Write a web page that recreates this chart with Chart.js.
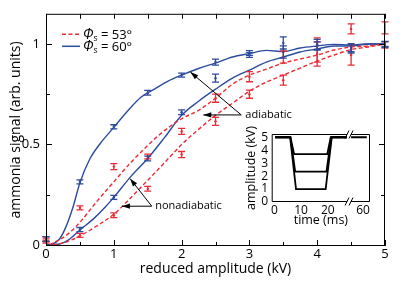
<!DOCTYPE html>
<html>
<head>
<meta charset="utf-8">
<script src="https://cdn.jsdelivr.net/npm/chart.js@4.4.0/dist/chart.umd.min.js"></script>
<style>
  html, body { margin: 0; padding: 0; background: #fff; }
  #wrap { position: relative; width: 415px; height: 282px; }
  #wrap canvas { position: absolute; left: 0; top: 0; }
</style>
</head>
<body>
<div id="wrap">
  <canvas id="mainChart" width="415" height="282"></canvas>
  <canvas id="insetChart" width="415" height="282"></canvas>
</div>
<script>
// --- Simulated curves (reduced amplitude in kV -> signal) ---
const adia60X = [0, 0.1, 0.2, 0.3, 0.4, 0.5, 0.65, 0.8, 1.0, 1.2, 1.4, 1.6, 1.8, 2.0, 2.25, 2.5, 2.75, 3.0, 3.25, 3.5, 3.75, 4.0, 4.25, 4.5, 4.75, 5.0];
const adia60Y = [0, 0.005, 0.03, 0.095, 0.19, 0.31, 0.43, 0.505, 0.585, 0.665, 0.735, 0.775, 0.815, 0.845, 0.878, 0.905, 0.935, 0.952, 0.968, 0.962, 0.98, 0.99, 0.998, 0.995, 1.0, 1.0];
const nonadia60X = [0, 0.2, 0.35, 0.5, 0.7, 0.85, 1.0, 1.25, 1.5, 1.75, 2.0, 2.25, 2.5, 2.75, 3.0, 3.25, 3.5, 3.75, 4.0, 4.25, 4.5, 4.75, 5.0];
const nonadia60Y = [0, 0.005, 0.03, 0.075, 0.13, 0.18, 0.237, 0.34, 0.43, 0.535, 0.645, 0.715, 0.775, 0.83, 0.87, 0.91, 0.935, 0.96, 0.975, 0.99, 0.99, 1.0, 1.0];
const adia53X = [0.05, 0.3, 0.5, 0.75, 1.0, 1.25, 1.5, 1.75, 2.0, 2.25, 2.5, 2.75, 3.0, 3.25, 3.5, 3.75, 4.0, 4.25, 4.5, 4.75, 5.0];
const adia53Y = [0, 0.048, 0.113, 0.217, 0.314, 0.41, 0.495, 0.57, 0.628, 0.67, 0.73, 0.8, 0.845, 0.875, 0.905, 0.925, 0.945, 0.97, 0.985, 0.99, 1.0];
const nonadia53X = [0.1, 0.3, 0.5, 0.75, 1.0, 1.25, 1.5, 1.75, 2.0, 2.25, 2.5, 2.75, 3.0, 3.25, 3.5, 3.75, 4.0, 4.25, 4.5, 4.75, 5.0];
const nonadia53Y = [0, 0.015, 0.045, 0.095, 0.153, 0.235, 0.322, 0.41, 0.5, 0.575, 0.645, 0.705, 0.765, 0.81, 0.845, 0.88, 0.915, 0.945, 0.972, 0.985, 1.0];

// --- Measured points with error bars ---
const ampX = [0, 0.5, 1, 1.5, 2, 2.5, 3, 3.5, 4, 4.5, 5];
const adia60Pts = [0.03, 0.314, 0.588, 0.757, 0.845, 0.91, 0.955, 1.005, 0.998, 0.982, 0.998];
const adia60Err = [0.012, 0.01, 0.01, 0.012, 0.01, 0.015, 0.012, 0.03, 0.025, 0.02, 0.015];
const nonadia60Pts = [0.03, 0.077, 0.237, 0.43, 0.66, 0.83, 0.945, 0.96, 0.99, 0.975, 1.0];
const nonadia60Err = [0.012, 0.01, 0.01, 0.012, 0.012, 0.02, 0.012, 0.03, 0.02, 0.02, 0.012];
const adia53Pts = [0.03, 0.185, 0.39, 0.44, 0.565, 0.73, 0.837, 0.935, 0.97, 1.075, 1.08];
const adia53Err = [0.01, 0.01, 0.015, 0.012, 0.015, 0.02, 0.025, 0.03, 0.06, 0.025, 0.03];
const nonadia53Pts = [0.02, 0.048, 0.148, 0.28, 0.45, 0.615, 0.75, 0.82, 0.95, 0.945, 0.995];
const nonadia53Err = [0.01, 0.01, 0.012, 0.012, 0.015, 0.02, 0.02, 0.025, 0.06, 0.05, 0.015];

// --- Axes / labels ---
const xTicks = [0, 0.5, 1, 1.5, 2, 2.5, 3, 3.5, 4, 4.5, 5];
const yTicks = [0, 0.25, 0.5, 0.75, 1];
const yTickLabels = ['0', '', '0.5', '', '1'];
const legendLabels = ['53°', '60°'];

// --- Inset: amplitude waveform (time axis compressed after the break) ---
const insetHiT = [0.3, 6.0, 7.4, 19.8, 21.1, 27.2];
const insetHiA = [5, 5, 3.7, 3.7, 5, 5];
const insetMidT = [0.3, 6.0, 7.8, 19.5, 21.3, 27.2];
const insetMidA = [5, 5, 2.35, 2.35, 5, 5];
const insetLoT = [0.3, 5.9, 8.1, 19.2, 21.5, 27.2];
const insetLoA = [5, 5, 1, 1, 5, 5];
const insetTailT = [28.7, 34.6];
const insetTailA = [5, 5];
const insetXTicks = [0, 10, 20, 33.2];
const insetXTickLabels = ['0', '10', '20', '60'];
const insetYTicks = [0, 1, 2, 3, 4, 5];
const insetBreak = [27.2, 28.7];

const BLUE = '#2b4b9e';
const RED = '#ec2b36';
const FONT = "'Open Sans', 'DejaVu Sans', sans-serif";

Chart.defaults.font.family = FONT;
Chart.defaults.color = '#000';

const zip = (xs, ys) => xs.map((x, i) => ({ x: x, y: ys[i] }));

// frame with inward ticks on all four sides
const frameTicks = {
    id: 'frameTicks',
    afterDraw(chart) {
        const { ctx, chartArea: a, scales: { x, y } } = chart;
        ctx.save();
        ctx.strokeStyle = '#000';
        ctx.lineWidth = 1;
        ctx.strokeRect(a.left + 0.5, a.top + 0.5, a.right - a.left - 1, a.bottom - a.top - 1);
        ctx.beginPath();
        x.ticks.forEach(t => {
            const px = Math.round(x.getPixelForValue(t.value)) + 0.5;
            const len = t.label ? 6 : 4;
            ctx.moveTo(px, a.bottom); ctx.lineTo(px, a.bottom - len);
            ctx.moveTo(px, a.top); ctx.lineTo(px, a.top + 5);
        });
        y.ticks.forEach(t => {
            const py = Math.round(y.getPixelForValue(t.value)) + 0.5;
            const len = t.label ? 6 : 4;
            ctx.moveTo(a.left, py); ctx.lineTo(a.left + len, py);
            ctx.moveTo(a.right, py); ctx.lineTo(a.right - len, py);
        });
        ctx.stroke();
        ctx.restore();
    }
};

const errorBars = {
    id: 'errorBars',
    afterDatasetsDraw(chart) {
        const { ctx, scales: { x, y } } = chart;
        ctx.save();
        chart.data.datasets.forEach(ds => {
            if (!ds.errors) return;
            ctx.strokeStyle = ds.borderColor;
            ctx.lineWidth = 1.3;
            ctx.beginPath();
            ds.data.forEach((p, j) => {
                const px = x.getPixelForValue(p.x);
                const top = y.getPixelForValue(p.y + ds.errors[j]);
                const bot = y.getPixelForValue(p.y - ds.errors[j]);
                ctx.moveTo(px, top); ctx.lineTo(px, bot);
                ctx.moveTo(px - 3.5, top); ctx.lineTo(px + 3.5, top);
                ctx.moveTo(px - 3.5, bot); ctx.lineTo(px + 3.5, bot);
            });
            ctx.stroke();
        });
        ctx.restore();
    }
};

function arrow(ctx, x0, y0, x1, y1) {
    ctx.beginPath();
    ctx.moveTo(x0, y0); ctx.lineTo(x1, y1);
    ctx.stroke();
    const ang = Math.atan2(y1 - y0, x1 - x0);
    const L = 8, W = 2.6;
    ctx.beginPath();
    ctx.moveTo(x1, y1);
    ctx.lineTo(x1 - L * Math.cos(ang) + W * Math.sin(ang), y1 - L * Math.sin(ang) - W * Math.cos(ang));
    ctx.lineTo(x1 - L * Math.cos(ang) - W * Math.sin(ang), y1 - L * Math.sin(ang) + W * Math.cos(ang));
    ctx.closePath();
    ctx.fill();
}

// "adiabatic" / "nonadiabatic" labels with arrows (data coordinates)
const annotations = {
    id: 'annotations',
    afterDraw(chart) {
        const { ctx, scales: { x, y } } = chart;
        const notes = [
            { text: 'adiabatic', at: [2.94, 0.647], from: [2.88, 0.647], to: [[2.32, 0.647], [2.13, 0.86]] },
            { text: 'nonadiabatic', at: [1.61, 0.193], from: [1.56, 0.193], to: [[1.12, 0.193], [1.24, 0.33]] }
        ];
        ctx.save();
        ctx.strokeStyle = '#000';
        ctx.fillStyle = '#000';
        ctx.lineWidth = 1;
        notes.forEach(n => {
            const fx = x.getPixelForValue(n.from[0]), fy = y.getPixelForValue(n.from[1]);
            n.to.forEach(t => arrow(ctx, fx, fy, x.getPixelForValue(t[0]), y.getPixelForValue(t[1])));
            ctx.font = '11px ' + FONT;
            ctx.textBaseline = 'middle';
            ctx.textAlign = 'left';
            ctx.fillText(n.text, x.getPixelForValue(n.at[0]), y.getPixelForValue(n.at[1]));
        });
        ctx.restore();
    }
};

const legendBox = {
    id: 'legendBox',
    afterDraw(chart) {
        const { ctx, chartArea: a } = chart;
        const colors = [RED, BLUE];
        const dashes = [[4, 2.5], []];
        ctx.save();
        legendLabels.forEach((lab, i) => {
            const yy = a.top + 20.5 + i * 12;
            ctx.strokeStyle = colors[i];
            ctx.lineWidth = 1.5;
            ctx.setLineDash(dashes[i]);
            ctx.beginPath();
            ctx.moveTo(a.left + 16, yy); ctx.lineTo(a.left + 34, yy);
            ctx.stroke();
            ctx.setLineDash([]);
            let xx = a.left + 37;
            ctx.fillStyle = '#000';
            ctx.textBaseline = 'alphabetic';
            ctx.font = 'italic 14px ' + FONT;
            ctx.fillText('Φ', xx, yy + 4.5);
            xx += ctx.measureText('Φ').width;
            ctx.font = '8.5px ' + FONT;
            ctx.fillText('s', xx, yy + 6.5);
            xx += ctx.measureText('s').width;
            ctx.font = '13px ' + FONT;
            ctx.fillText(' = ' + lab, xx, yy + 4.5);
        });
        ctx.restore();
    }
};

const curve = (xs, ys, color, dash) => ({
    data: zip(xs, ys), showLine: true, borderColor: color, borderWidth: 1.4,
    borderDash: dash, pointRadius: 0, tension: 0.3, cubicInterpolationMode: 'monotone'
});
const points = (ys, errs, color) => ({
    data: zip(ampX, ys), errors: errs, showLine: false, borderColor: color,
    backgroundColor: color, pointRadius: 1.2, borderWidth: 0
});

new Chart(document.getElementById('mainChart'), {
    type: 'scatter',
    data: {
        datasets: [
            curve(adia53X, adia53Y, RED, [4, 2.5]),
            curve(nonadia53X, nonadia53Y, RED, [4, 2.5]),
            curve(adia60X, adia60Y, BLUE, []),
            curve(nonadia60X, nonadia60Y, BLUE, []),
            points(adia53Pts, adia53Err, RED),
            points(nonadia53Pts, nonadia53Err, RED),
            points(adia60Pts, adia60Err, BLUE),
            points(nonadia60Pts, nonadia60Err, BLUE)
        ]
    },
    options: {
        responsive: false,
        animation: false,
        devicePixelRatio: 1,
        layout: { padding: { top: 7, right: 30, left: 0, bottom: 0 } },
        plugins: { legend: { display: false }, tooltip: { enabled: false } },
        scales: {
            x: {
                type: 'linear', min: 0, max: 5,
                afterBuildTicks: s => { s.ticks = xTicks.map(v => ({ value: v })); },
                afterFit: s => { s.height = 36; },
                grid: { display: false, drawTicks: false }, border: { display: false },
                ticks: {
                    padding: 0, font: { size: 13 }, maxRotation: 0, autoSkip: false,
                    callback: v => Number.isInteger(v) ? String(v) : ''
                },
                title: { display: true, text: 'reduced amplitude (kV)', font: { size: 14 }, padding: { top: 0, bottom: 4.6 } }
            },
            y: {
                type: 'linear', min: -0.005, max: 1.15,
                afterBuildTicks: s => { s.ticks = yTicks.map(v => ({ value: v })); },
                afterFit: s => { s.width = 46; },
                grid: { display: false, drawTicks: false }, border: { display: false },
                ticks: { padding: 6, font: { size: 13 }, autoSkip: false, callback: (v, i) => yTickLabels[i] },
                title: { display: true, text: 'ammonia signal (arb. units)', font: { size: 14 }, padding: { top: 7.6, bottom: 0 } }
            }
        }
    },
    plugins: [frameTicks, errorBars, annotations, legendBox]
});

// inset frame: white box, broken top/bottom edges with "//" marks
const insetFrame = {
    id: 'insetFrame',
    beforeDatasetsDraw(chart) {
        const { ctx, chartArea: a } = chart;
        ctx.save();
        ctx.fillStyle = '#fff';
        ctx.fillRect(a.left, a.top, a.right - a.left, a.bottom - a.top);
        ctx.restore();
    },
    afterDraw(chart) {
        const { ctx, chartArea: a, scales: { x } } = chart;
        const b0 = x.getPixelForValue(insetBreak[0]);
        const b1 = x.getPixelForValue(insetBreak[1]);
        const L = a.left + 0.5, R = a.right - 0.5, T = a.top + 0.5, B = a.bottom - 0.5;
        ctx.save();
        ctx.strokeStyle = '#000';
        ctx.lineWidth = 1;
        ctx.beginPath();
        ctx.moveTo(b0, T); ctx.lineTo(L, T); ctx.lineTo(L, B); ctx.lineTo(b0, B);
        ctx.moveTo(b1, T); ctx.lineTo(R, T); ctx.lineTo(R, B); ctx.lineTo(b1, B);
        [T, B].forEach(yy => {
            [b0, b1].forEach(bx => { ctx.moveTo(bx - 2, yy + 4); ctx.lineTo(bx + 2, yy - 4); });
        });
        ctx.stroke();
        ctx.restore();
    }
};

const insetLine = (ts, as) => ({
    data: zip(ts, as), showLine: true, borderColor: '#000', borderWidth: 1.8,
    pointRadius: 0, tension: 0
});

new Chart(document.getElementById('insetChart'), {
    type: 'scatter',
    data: {
        datasets: [
            insetLine(insetHiT, insetHiA),
            insetLine(insetMidT, insetMidA),
            insetLine(insetLoT, insetLoA),
            insetLine(insetTailT, insetTailA)
        ]
    },
    options: {
        responsive: false,
        animation: false,
        devicePixelRatio: 1,
        layout: { padding: { left: 239, top: 134, right: 45, bottom: 53 } },
        plugins: { legend: { display: false }, tooltip: { enabled: false } },
        scales: {
            x: {
                type: 'linear', min: -1, max: 35.8,
                afterBuildTicks: s => { s.ticks = insetXTicks.map(v => ({ value: v })); },
                afterFit: s => { s.height = 27; },
                grid: { display: false, drawTicks: false }, border: { display: false },
                ticks: { padding: 1, font: { size: 12 }, maxRotation: 0, autoSkip: false, callback: (v, i) => insetXTickLabels[i] },
                title: { display: true, text: 'time (ms)', font: { size: 12.5 }, padding: { top: 0, bottom: 1 } }
            },
            y: {
                type: 'linear', min: 0, max: 5.25,
                afterBuildTicks: s => { s.ticks = insetYTicks.map(v => ({ value: v })); },
                afterFit: s => { s.width = 32.7; },
                grid: { display: false, drawTicks: false }, border: { display: false },
                ticks: { padding: 3.5, font: { size: 12 }, autoSkip: false },
                title: { display: true, text: 'amplitude (kV)', font: { size: 12.5 }, padding: { top: 5, bottom: 0 } }
            }
        }
    },
    plugins: [insetFrame]
});
</script>
</body>
</html>
